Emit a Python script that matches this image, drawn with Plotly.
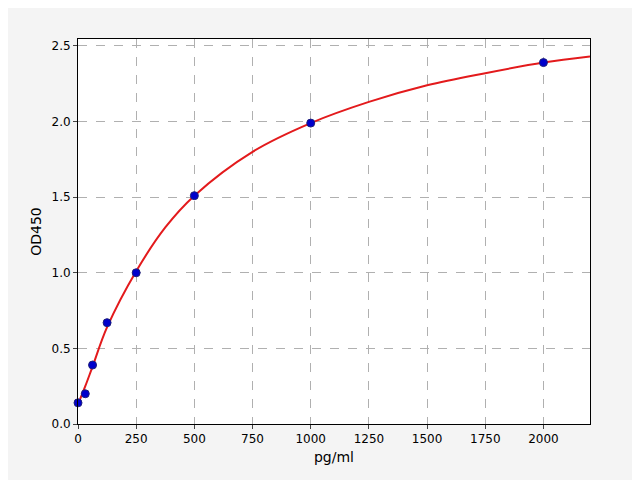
import plotly.graph_objects as go

conc = [0, 31.25, 62.5, 125, 250, 500, 1000, 2000]
od = [0.14, 0.20, 0.39, 0.67, 1.00, 1.51, 1.99, 2.39]
curve_x = [0, 31.25, 62.5, 125, 250, 375, 500, 750, 1000, 1250, 1500, 1750, 2000, 2200]
curve_y = [0.13, 0.25, 0.38, 0.64, 1.01, 1.30, 1.51, 1.80, 1.99, 2.13, 2.24, 2.32, 2.39, 2.43]

fig = go.Figure()
fig.add_trace(go.Scatter(x=curve_x, y=curve_y, mode="lines", line=dict(color="#e31a1c", width=2, shape="spline"), showlegend=False))
fig.add_trace(go.Scatter(x=conc, y=od, mode="markers", marker=dict(color="#0000cc", size=8, line=dict(color="#1f1f7a", width=1)), showlegend=False, cliponaxis=False))

ax = dict(showline=True, linecolor="black", linewidth=1, mirror=True, ticks="outside", ticklen=4,
          gridcolor="#b0b0b0", griddash="dash", zeroline=False, tickfont=dict(size=12, color="black"))
fig.update_layout(
    width=640, height=480, paper_bgcolor="#f4f4f4", plot_bgcolor="white",
    margin=dict(l=70, r=58, t=31, b=64),
    font=dict(family="DejaVu Sans", size=12, color="black"),
    xaxis=dict(ax, range=[0, 2200], tickvals=list(range(0, 2001, 250)), title=dict(text="pg/ml", standoff=6)),
    yaxis=dict(ax, range=[0, 2.546], tickvals=[0, 0.5, 1, 1.5, 2, 2.5], tickformat=".1f", title=dict(text="OD450", standoff=6)),
)
fig.write_html("out.html")
